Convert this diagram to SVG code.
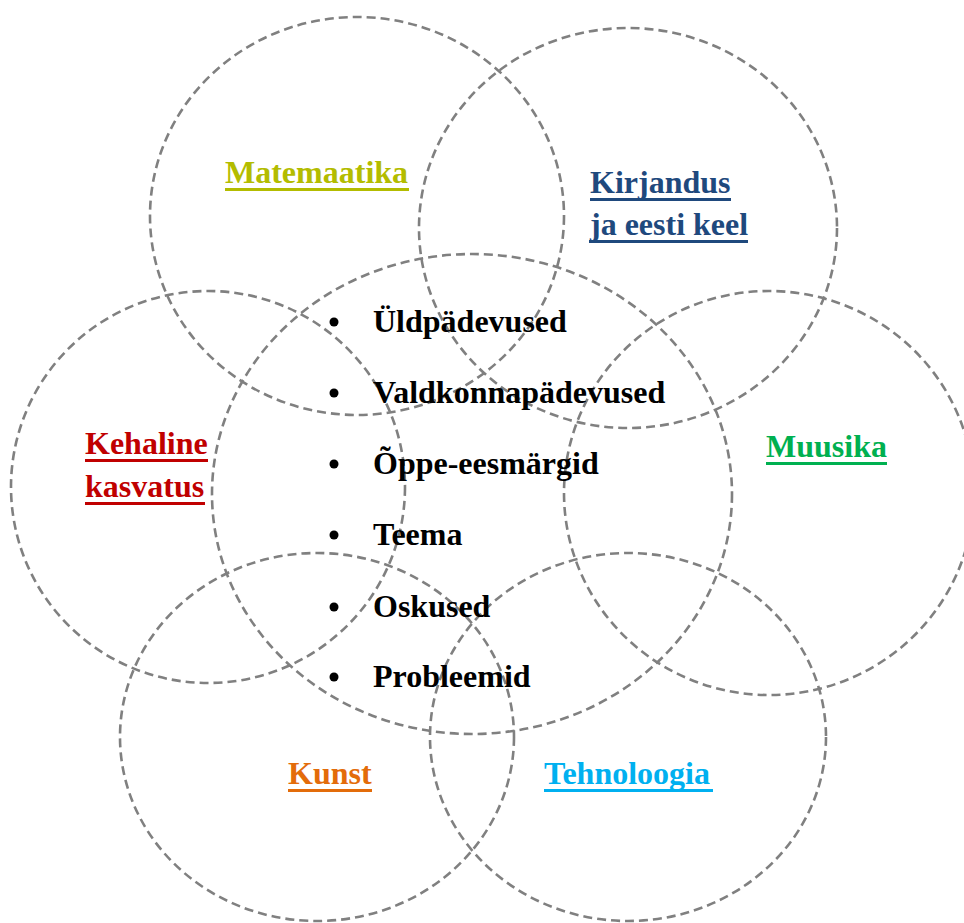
<svg xmlns="http://www.w3.org/2000/svg" width="964" height="923" viewBox="0 0 964 923">
<style>
.c{fill:none;stroke:#808080;stroke-width:2.6;stroke-dasharray:9 5}
.t{font-family:"Liberation Serif","Times New Roman",serif;font-weight:bold;font-size:32px}
</style>
<rect width="964" height="923" fill="#fff"/>
<g id="circles">
<ellipse id="c-mat" class="c" cx="357" cy="216" rx="207" ry="199"/>
<ellipse id="c-kir" class="c" cx="628" cy="228" rx="209" ry="200"/>
<ellipse id="c-center" class="c" cx="472" cy="494" rx="260" ry="240"/>
<ellipse id="c-keh" class="c" cx="208" cy="487" rx="197" ry="196"/>
<ellipse id="c-muu" class="c" cx="769" cy="493" rx="205" ry="202"/>
<ellipse id="c-kun" class="c" cx="317" cy="737" rx="197" ry="184"/>
<ellipse id="c-teh" class="c" cx="628" cy="737" rx="198" ry="184"/>
</g>
<g id="matemaatika" fill="#b3bc00">
<text class="t" x="225" y="183">Matemaatika</text>
<rect x="225" y="188" width="184" height="3"/>
</g>
<g id="kirjandus" fill="#1f497d">
<text class="t" x="590" y="193">Kirjandus</text>
<rect x="590" y="198" width="141" height="3"/>
<text class="t" x="590" y="235">ja eesti keel</text>
<rect x="589" y="240" width="159" height="3"/>
</g>
<g id="kehaline" fill="#c00000">
<text class="t" x="85" y="454">Kehaline</text>
<rect x="85" y="459" width="123" height="3"/>
<text class="t" x="85" y="497">kasvatus</text>
<rect x="85" y="502" width="120" height="3"/>
</g>
<g id="muusika" fill="#00b050">
<text class="t" x="766" y="457">Muusika</text>
<rect x="766" y="462" width="121" height="3"/>
</g>
<g id="kunst" fill="#e36c0a">
<text class="t" x="288" y="784">Kunst</text>
<rect x="288" y="789" width="84" height="3"/>
</g>
<g id="tehnoloogia" fill="#00b0f0">
<text class="t" x="544" y="784">Tehnoloogia</text>
<rect x="544" y="789" width="169" height="3"/>
</g>
<g id="center-list" fill="#000">
<circle cx="334" cy="322" r="4.5"/><text class="t" x="373" y="332">Üldpädevused</text>
<circle cx="334" cy="393" r="4.5"/><text class="t" x="373" y="403">Valdkonnapädevused</text>
<circle cx="334" cy="464" r="4.5"/><text class="t" x="373" y="474">Õppe-eesmärgid</text>
<circle cx="334" cy="535" r="4.5"/><text class="t" x="373" y="545">Teema</text>
<circle cx="334" cy="607" r="4.5"/><text class="t" x="373" y="617">Oskused</text>
<circle cx="334" cy="677" r="4.5"/><text class="t" x="373" y="687">Probleemid</text>
</g>
</svg>
